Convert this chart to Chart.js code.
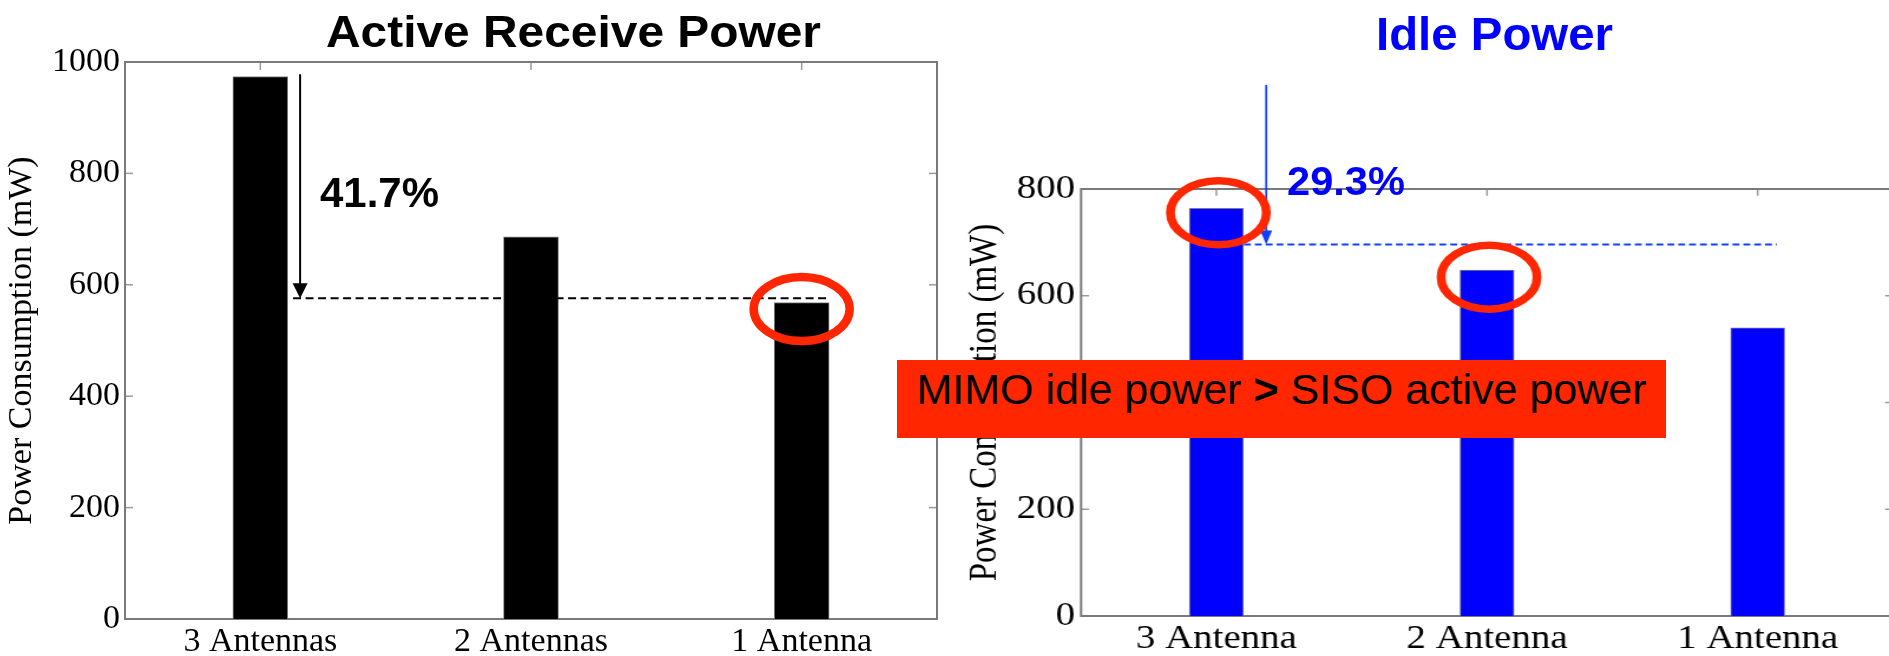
<!DOCTYPE html>
<html>
<head>
<meta charset="utf-8">
<script src="https://cdn.jsdelivr.net/npm/chart.js@4.4.1/dist/chart.umd.min.js"></script>
<style>
  html, body { margin: 0; padding: 0; background: #fff; overflow: hidden; width: 1889px; height: 656px; }
  #stage { position: relative; width: 1889px; height: 656px; overflow: hidden; background: #fff; }
  #activeWrap { position: absolute; left: 0; top: 0; width: 945px; height: 656px; z-index: 1; }
  #idleWrap { position: absolute; left: 945px; top: 0; width: 814px; height: 656px; z-index: 2;
              transform: scaleX(1.18); transform-origin: 0 0; }
  #overlay { position: absolute; left: 0; top: 0; width: 1889px; height: 656px; z-index: 3; pointer-events: none; }
  #note { position: absolute; left: 897px; top: 360px; width: 769px; height: 73px; padding-top: 5px;
          line-height: 73px; background: rgb(255, 38, 0); color: #000; z-index: 4; text-align: center;
          font: 43px 'Liberation Sans', Arial, sans-serif; white-space: nowrap; }
  #note b { font-weight: bold; }
</style>
</head>
<body>
<div id="stage">
  <div id="activeWrap"><canvas id="activeChart" width="945" height="656"></canvas></div>
  <div id="idleWrap"><canvas id="idleChart" width="814" height="656"></canvas></div>
  <canvas id="overlay" width="1889" height="656"></canvas>
  <div id="note">MIMO idle power <b>&gt;</b> SISO active power</div>
</div>
<script>
// Power draw per antenna configuration (mW)
const activeLabels = ['3 Antennas', '2 Antennas', '1 Antenna'];
const activePower = [974, 686, 568];
const activeLevel = 576;      // dashed reference level
const activeArrowFrom = 978;  // top of the drop arrow

const idleLabels = ['3 Antenna', '2 Antenna', '1 Antenna'];
const idlePower = [764, 648, 540];
const idleLevel = 696;
const idleArrowFrom = 995;

const activeTicks = [0, 200, 400, 600, 800, 1000];
const idleTicks = [0, 200, 400, 600, 800];

const SERIF = "'Liberation Serif', 'Times New Roman', Times, serif";
const SANS = "'Liberation Sans', Arial, Helvetica, sans-serif";

function dropPct(values) {
  return ((values[0] - values[2]) / values[0] * 100).toFixed(1) + '%';
}

// Boxed axes with inward tick marks on all four sides
const boxFrame = {
  id: 'boxFrame',
  beforeDatasetsDraw(chart, args, o) {
    const { ctx, chartArea: a, scales: { x, y } } = chart;
    const L = o.tickLen;
    ctx.save();
    ctx.strokeStyle = o.tickColor;
    ctx.lineWidth = 1.5;
    const seg = (x1, y1, x2, y2) => { ctx.beginPath(); ctx.moveTo(x1, y1); ctx.lineTo(x2, y2); ctx.stroke(); };
    y.ticks.forEach(t => {
      const py = y.getPixelForValue(t.value);
      seg(a.left, py, a.left + L, py);
      seg(a.right, py, a.right - L, py);
    });
    x.ticks.forEach((t, i) => {
      const px = x.getPixelForTick(i);
      seg(px, a.top, px, a.top + L);
      seg(px, a.bottom, px, a.bottom - L);
    });
    ctx.strokeStyle = o.frameColor;
    ctx.lineWidth = 2;
    ctx.strokeRect(a.left, a.top, a.right - a.left, a.bottom - a.top);
    ctx.restore();
  }
};

// Drop arrow, dashed reference level and highlight rings
const dropMarker = {
  id: 'dropMarker',
  afterDatasetsDraw(chart, args, o) {
    const { ctx, scales: { x, y } } = chart;
    const x0 = x.getPixelForValue(0);
    const step = x.getPixelForValue(1) - x0;
    const ax = x0 + o.arrowAt * step;
    const yTop = y.getPixelForValue(o.from);
    const yEnd = y.getPixelForValue(o.level);
    ctx.save();
    ctx.strokeStyle = o.dashColor;
    ctx.lineWidth = o.dashWidth;
    ctx.setLineDash(o.dash);
    ctx.beginPath();
    ctx.moveTo(x0 + o.dashStart * step, yEnd);
    ctx.lineTo(x.getPixelForValue(2) + o.dashEnd * step, yEnd);
    ctx.stroke();
    ctx.setLineDash([]);
    ctx.strokeStyle = o.arrowColor;
    ctx.lineWidth = o.shaftWidth;
    ctx.beginPath();
    ctx.moveTo(ax, yTop);
    ctx.lineTo(ax, yEnd - o.headLen + 1);
    ctx.stroke();
    ctx.fillStyle = o.arrowColor;
    ctx.beginPath();
    ctx.moveTo(ax - o.headHalf, yEnd - o.headLen);
    ctx.lineTo(ax + o.headHalf, yEnd - o.headLen);
    ctx.lineTo(ax, yEnd);
    ctx.closePath();
    ctx.fill();
    const bars = chart.getDatasetMeta(0).data;
    ctx.strokeStyle = o.ringColor;
    ctx.lineWidth = o.ringWidth;
    o.rings.forEach(([i, dx, dy]) => {
      const b = bars[i];
      ctx.beginPath();
      ctx.ellipse(b.x + dx, b.y + dy, o.ringRx, o.ringRy, 0, 0, Math.PI * 2);
      ctx.stroke();
    });
    ctx.restore();
  }
};

function axisOptions(cfg) {
  return {
    x: {
      grid: { display: false, drawTicks: false },
      border: { display: false },
      ticks: { color: '#000', font: { family: SERIF, size: cfg.font }, padding: cfg.xPad, maxRotation: 0, autoSkip: false },
      afterFit(s) { s.height = cfg.xHeight; }
    },
    y: {
      min: 0, max: cfg.max,
      afterBuildTicks(s) { s.ticks = cfg.ticks.map(v => ({ value: v })); },
      ticks: { color: '#000', font: { family: SERIF, size: cfg.font }, padding: cfg.yPad,
               callback: v => String(v) },
      grid: { display: false, drawTicks: false },
      border: { display: false },
      title: { display: true, text: 'Power Consumption (mW)', color: '#000',
               font: { family: SERIF, size: cfg.titleFont }, padding: { top: cfg.titlePad, bottom: 0 } },
      afterFit(s) { s.width = cfg.yWidth; }
    }
  };
}

new Chart(document.getElementById('activeChart'), {
  type: 'bar',
  data: {
    labels: activeLabels,
    datasets: [{ data: activePower, backgroundColor: '#000', borderColor: '#8a8a8a', borderWidth: 1, barThickness: 55 }]
  },
  options: {
    responsive: false, animation: false, devicePixelRatio: 1,
    layout: { padding: { top: 62, right: 8, bottom: 0, left: 0 } },
    plugins: {
      legend: { display: false }, tooltip: { enabled: false },
      boxFrame: { tickLen: 8, tickColor: '#9a9a9a', frameColor: '#7a7a7a' },
      dropMarker: {
        from: activeArrowFrom, level: activeLevel, arrowAt: 0.147,
        dashStart: 0.121, dashEnd: 0.105, dash: [8, 4.5], dashWidth: 2, dashColor: '#000',
        arrowColor: '#000', shaftWidth: 2, headLen: 15, headHalf: 7.5,
        ringColor: 'rgb(255,38,0)', ringWidth: 8.5, ringRx: 48, ringRy: 32,
        rings: [[2, 0, 6.5]]
      }
    },
    scales: axisOptions({ font: 34, titleFont: 34, titlePad: 2, xPad: 3, yPad: 5, xHeight: 37, yWidth: 125, max: 1000, ticks: activeTicks })
  },
  plugins: [boxFrame, dropMarker]
});

const SX = 1.18;
new Chart(document.getElementById('idleChart'), {
  type: 'bar',
  data: {
    labels: idleLabels,
    datasets: [{ data: idlePower, backgroundColor: '#0000ff', borderColor: '#7a7a9a', borderWidth: 1, barThickness: 54 / SX }]
  },
  options: {
    responsive: false, animation: false, devicePixelRatio: 1,
    layout: { padding: { top: 189, right: 10.6, bottom: 0, left: 0 } },
    plugins: {
      legend: { display: false }, tooltip: { enabled: false },
      boxFrame: { tickLen: 8 / SX, tickColor: '#9a9a9a', frameColor: '#7a7a7a' },
      dropMarker: {
        from: idleArrowFrom, level: idleLevel, arrowAt: 0.184,
        dashStart: 0.102, dashEnd: 0.071, dash: [5.8, 3.4], dashWidth: 2, dashColor: '#1040ff',
        arrowColor: '#1040ff', shaftWidth: 2 / SX, headLen: 14, headHalf: 6 / SX,
        ringColor: 'rgb(255,38,0)', ringWidth: 7.5, ringRx: 48 / SX, ringRy: 32,
        rings: [[0, 2 / SX, 4.5], [1, 2 / SX, 7]]
      }
    },
    scales: axisOptions({ font: 33, titleFont: 33, titlePad: 15, xPad: 4, yPad: 5, xHeight: 40, yWidth: 115.3, max: 800, ticks: idleTicks })
  },
  plugins: [boxFrame, dropMarker]
});

// Headings and drop percentages
(function () {
  const ctx = document.getElementById('overlay').getContext('2d');
  function label(text, cx, baseline, font, color, width) {
    ctx.save();
    ctx.font = font;
    ctx.fillStyle = color;
    ctx.textAlign = 'center';
    ctx.textBaseline = 'alphabetic';
    const w = ctx.measureText(text).width;
    ctx.translate(cx, baseline);
    ctx.scale(width ? width / w : 1, 1);
    ctx.fillText(text, 0, 0);
    ctx.restore();
  }
  label('Active Receive Power', 573.5, 47, 'bold 44px ' + SANS, '#000', 495);
  label('Idle Power', 1494.5, 50, 'bold 47px ' + SANS, '#0000ff', 237);
  label(dropPct(activePower), 379.5, 207, 'bold 42px ' + SANS, '#000', 119);
  label(dropPct(idlePower), 1346, 195, 'bold 41px ' + SANS, '#0000ff', 118);
})();
</script>
</body>
</html>
